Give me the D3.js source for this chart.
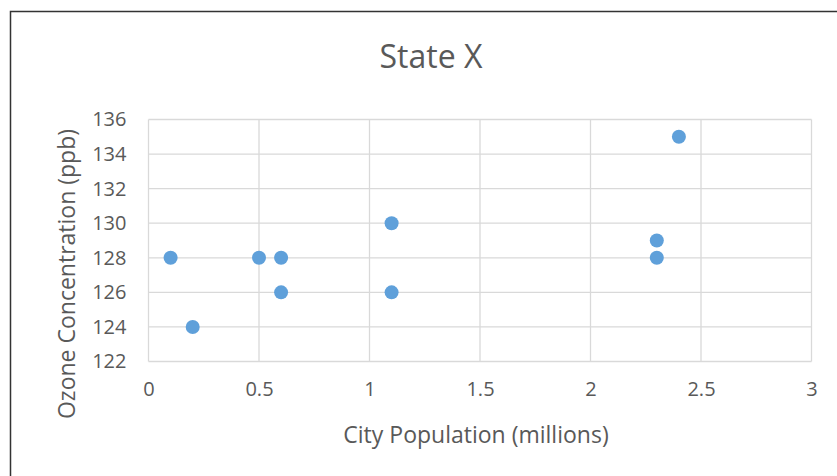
<!DOCTYPE html>
<html>
<head>
<meta charset="utf-8">
<script src="https://cdn.jsdelivr.net/npm/d3@7"></script>
<style>
  html, body { margin: 0; padding: 0; background: #fff; }
  svg { display: block; }
  text { font-family: "Open Sans", "Noto Sans", sans-serif; fill: #595959; }
</style>
</head>
<body>
<svg id="chart" width="837" height="476"></svg>
<script>
// City population (millions) and ozone concentration (ppb)
const population = [0.1, 0.2, 0.5, 0.6, 0.6, 1.1, 1.1, 2.3, 2.3, 2.4];
const ozone      = [128, 124, 128, 128, 126, 130, 126, 129, 128, 135];
const xTicks = [0, 0.5, 1, 1.5, 2, 2.5, 3];
const yTicks = [122, 124, 126, 128, 130, 132, 134, 136];
const chartTitle = "State X";
const xTitle = "City Population (millions)";
const yTitle = "Ozone Concentration (ppb)";

const svg = d3.select("#chart");
const W = 837, H = 476;
const plot = { left: 148.5, right: 811.5, top: 119.5, bottom: 361.5 };

// outer frame
svg.append("path")
  .attr("d", `M${W + 2},11.5 H10.5 V${H + 2}`)
  .attr("fill", "none")
  .attr("stroke", "#333")
  .attr("stroke-width", 1.5);

const x = d3.scaleLinear().domain([0, 3]).range([plot.left, plot.right]);
const y = d3.scaleLinear().domain([122, 136]).range([plot.bottom, plot.top]);

// gridlines
const grid = svg.append("g").attr("stroke", "#d9d9d9").attr("stroke-width", 1.3);
grid.selectAll("line.v").data(xTicks).join("line")
  .attr("x1", d => x(d)).attr("x2", d => x(d))
  .attr("y1", plot.top).attr("y2", plot.bottom);
grid.selectAll("line.h").data(yTicks).join("line")
  .attr("x1", plot.left).attr("x2", plot.right)
  .attr("y1", d => y(d)).attr("y2", d => y(d));

// axes (labels only, lines provided by the grid)
const xAxis = svg.append("g")
  .attr("transform", `translate(0,${plot.bottom})`)
  .call(d3.axisBottom(x).tickValues(xTicks).tickSize(0).tickPadding(20).tickFormat(d3.format("")));
const yAxis = svg.append("g")
  .attr("transform", `translate(${plot.left},0)`)
  .call(d3.axisLeft(y).tickValues(yTicks).tickSize(0).tickPadding(22).tickFormat(d3.format("")));
[xAxis, yAxis].forEach(a => {
  a.select(".domain").remove();
  a.selectAll("text").attr("font-size", 20).attr("fill", "#595959")
    .style("font-family", '"Open Sans", "Noto Sans", sans-serif');
});

// points
svg.append("g").selectAll("circle")
  .data(population.map((p, i) => ({ p, o: ozone[i] })))
  .join("circle")
  .attr("cx", d => x(d.p))
  .attr("cy", d => y(d.o))
  .attr("r", 7)
  .attr("fill", "#5fa0da");

// titles
svg.append("text")
  .attr("x", 431).attr("y", 68)
  .attr("text-anchor", "middle")
  .attr("font-size", 32)
  .text(chartTitle);

svg.append("text")
  .attr("x", 476).attr("y", 443)
  .attr("text-anchor", "middle")
  .attr("font-size", 23)
  .text(xTitle);

svg.append("text")
  .attr("transform", `translate(75,274) rotate(-90)`)
  .attr("text-anchor", "middle")
  .attr("font-size", 23)
  .text(yTitle);
</script>
</body>
</html>
